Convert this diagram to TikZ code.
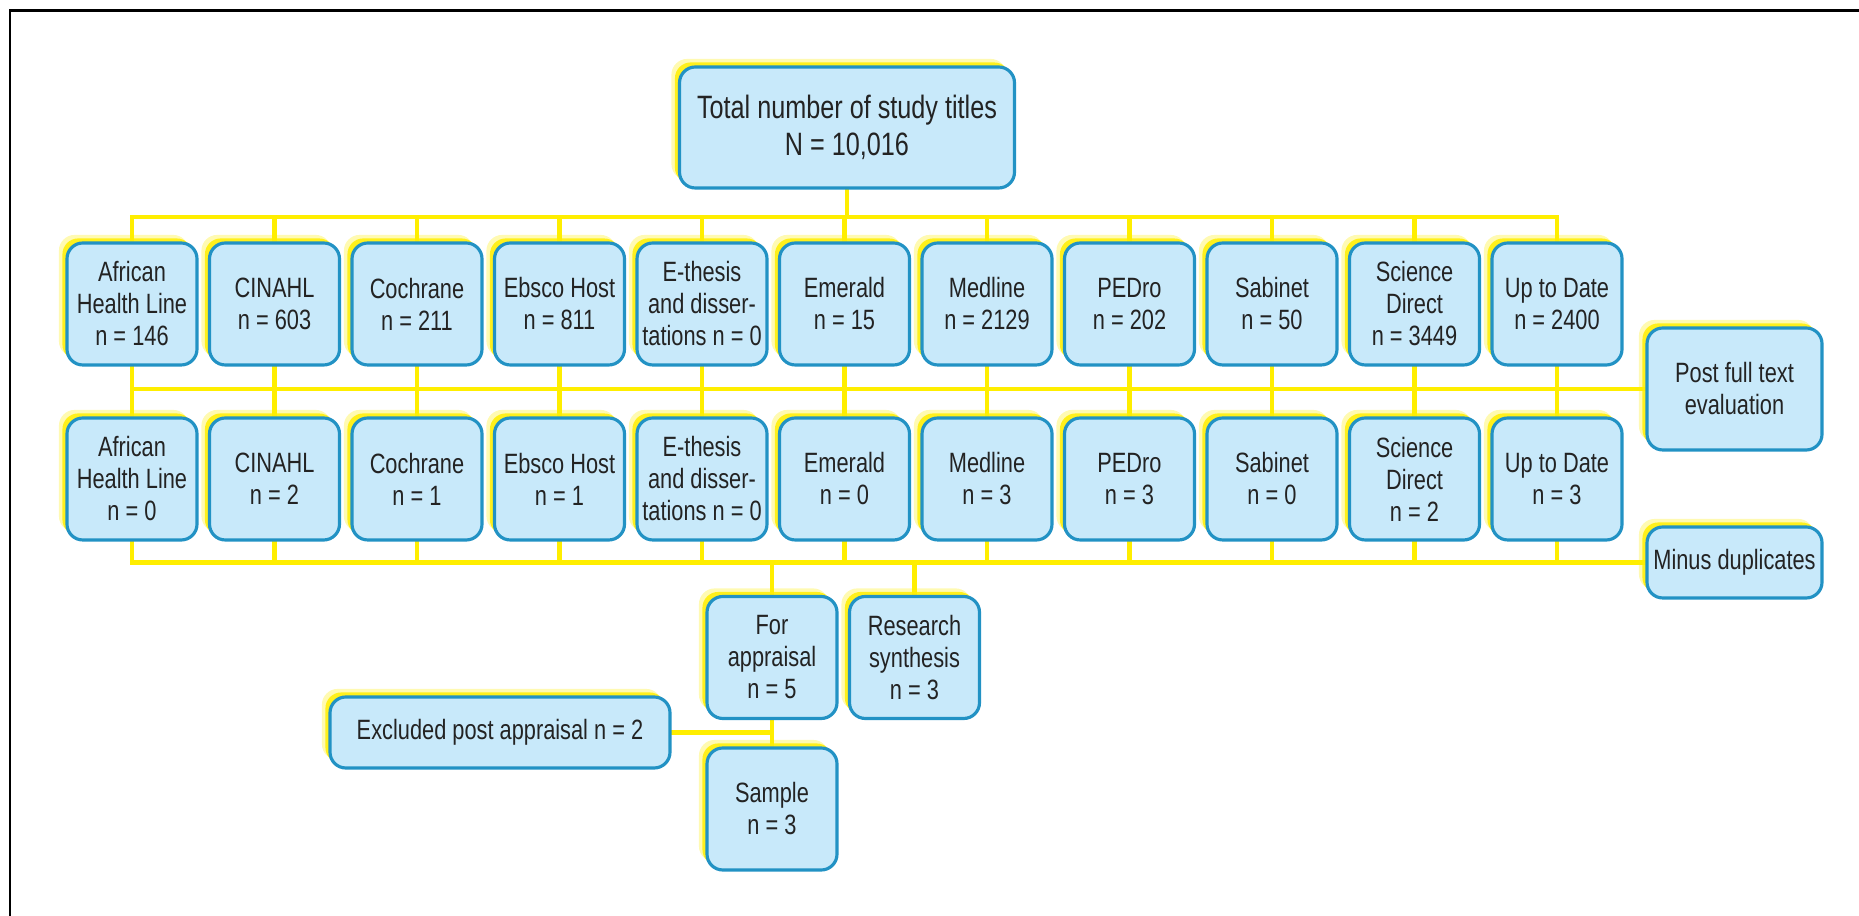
\documentclass[tikz,border=0pt]{standalone}
\usepackage{fontspec}
\setmainfont{Liberation Sans}[FakeStretch=0.78]
\usepackage{tikz}
\usetikzlibrary{shadows, backgrounds}
\definecolor{figY}{RGB}{255,238,0}
\definecolor{figB}{RGB}{34,146,196}
\definecolor{figL}{RGB}{200,233,250}
\definecolor{figT}{RGB}{35,35,35}
\tikzset{
  srcbox/.style={draw=figB, line width=0.9pt, fill=figL, rounded corners=4.5pt,
    align=center, inner sep=1pt, text=figT, font=\fontsize{7.95}{9.1}\selectfont,
    minimum width=1.30cm, minimum height=1.22cm,
    drop shadow={fill=figY, opacity=0.3, shadow xshift=-2.3pt, shadow yshift=2.3pt},
    drop shadow={fill=figY, opacity=0.85, shadow xshift=-1.3pt, shadow yshift=1.3pt}},
  feed/.style={figY, line width=1.2pt, line cap=rect},
}

\begin{document}
\begin{tikzpicture}
\useasboundingbox (0,0) rectangle (18.59,-9.16);
% ====== frame (top and left only) ======
\draw[line width=0.85pt] (0.10,-9.16) -- (0.10,-0.11) -- (18.59,-0.11);
% ====== total ======
\node[srcbox, minimum width=3.35cm, minimum height=1.21cm, font=\fontsize{9.2}{10.6}\selectfont] (total) at (8.47,-1.275) {Total number of study titles\\N = 10,016};
% ====== databases searched ======
\foreach \i/\txt in {0/{African\\Health Line\\n = 146}, 1/{CINAHL\\n = 603}, 2/{Cochrane\\n = 211},
    3/{Ebsco Host\\n = 811}, 4/{E-thesis\\and disser-\\tations n = 0}, 5/{Emerald\\n = 15},
    6/{Medline\\n = 2129}, 7/{PEDro\\n = 202}, 8/{Sabinet\\n = 50},
    9/{Science\\Direct\\n = 3449}, 10/{Up to Date\\n = 2400}}
  \node[srcbox] (s\i) at ({1.32+1.425*\i},-3.04) {\txt};
% ====== after full text ======
\foreach \i/\txt in {0/{African\\Health Line\\n = 0}, 1/{CINAHL\\n = 2}, 2/{Cochrane\\n = 1},
    3/{Ebsco Host\\n = 1}, 4/{E-thesis\\and disser-\\tations n = 0}, 5/{Emerald\\n = 0},
    6/{Medline\\n = 3}, 7/{PEDro\\n = 3}, 8/{Sabinet\\n = 0},
    9/{Science\\Direct\\n = 2}, 10/{Up to Date\\n = 3}}
  \node[srcbox] (f\i) at ({1.32+1.425*\i},-4.79) {\txt};
\node[srcbox, minimum width=1.75cm] (post) at (17.345,-3.89) {Post full text\\evaluation};
\node[srcbox, minimum width=1.75cm, minimum height=0.71cm] (dup) at (17.345,-5.625) {Minus duplicates};
% ====== appraisal ======
\node[srcbox] (appr) at (7.72,-6.575) {For\\appraisal\\n = 5};
\node[srcbox] (synth) at (9.145,-6.575) {Research\\synthesis\\n = 3};
\node[srcbox] (sample) at (7.72,-8.09) {Sample\\n = 3};
\node[srcbox, minimum width=3.4cm, minimum height=0.71cm] (excl) at (5.0,-7.325) {Excluded post appraisal n = 2};
% ====== yellow connectors ======
\coordinate (bus1) at (0,-2.17);
\begin{scope}[on background layer]
\draw[feed] (total.south) -- (total.south |- bus1);
\draw[feed] (s0.north |- bus1) -- (s10.north |- bus1);
\foreach \i in {0,...,10} {
  \draw[feed] (s\i.north) -- (s\i.north |- bus1);
  \draw[feed] (s\i.south) -- (f\i.north);
  \draw[feed] (f\i.south) -- (f\i.south |- dup.west);
}
\draw[feed] (s0.south |- post.west) -- (post.west);
\draw[feed] (f0.south |- dup.west) -- (dup.west);
\draw[feed] (appr.north |- dup.west) -- (appr.north);
\draw[feed] (synth.north |- dup.west) -- (synth.north);
\draw[feed] (appr.south) -- (sample.north);
\draw[feed] (excl.east) -- (appr.south |- excl.east);
\end{scope}
\end{tikzpicture}
\end{document}
